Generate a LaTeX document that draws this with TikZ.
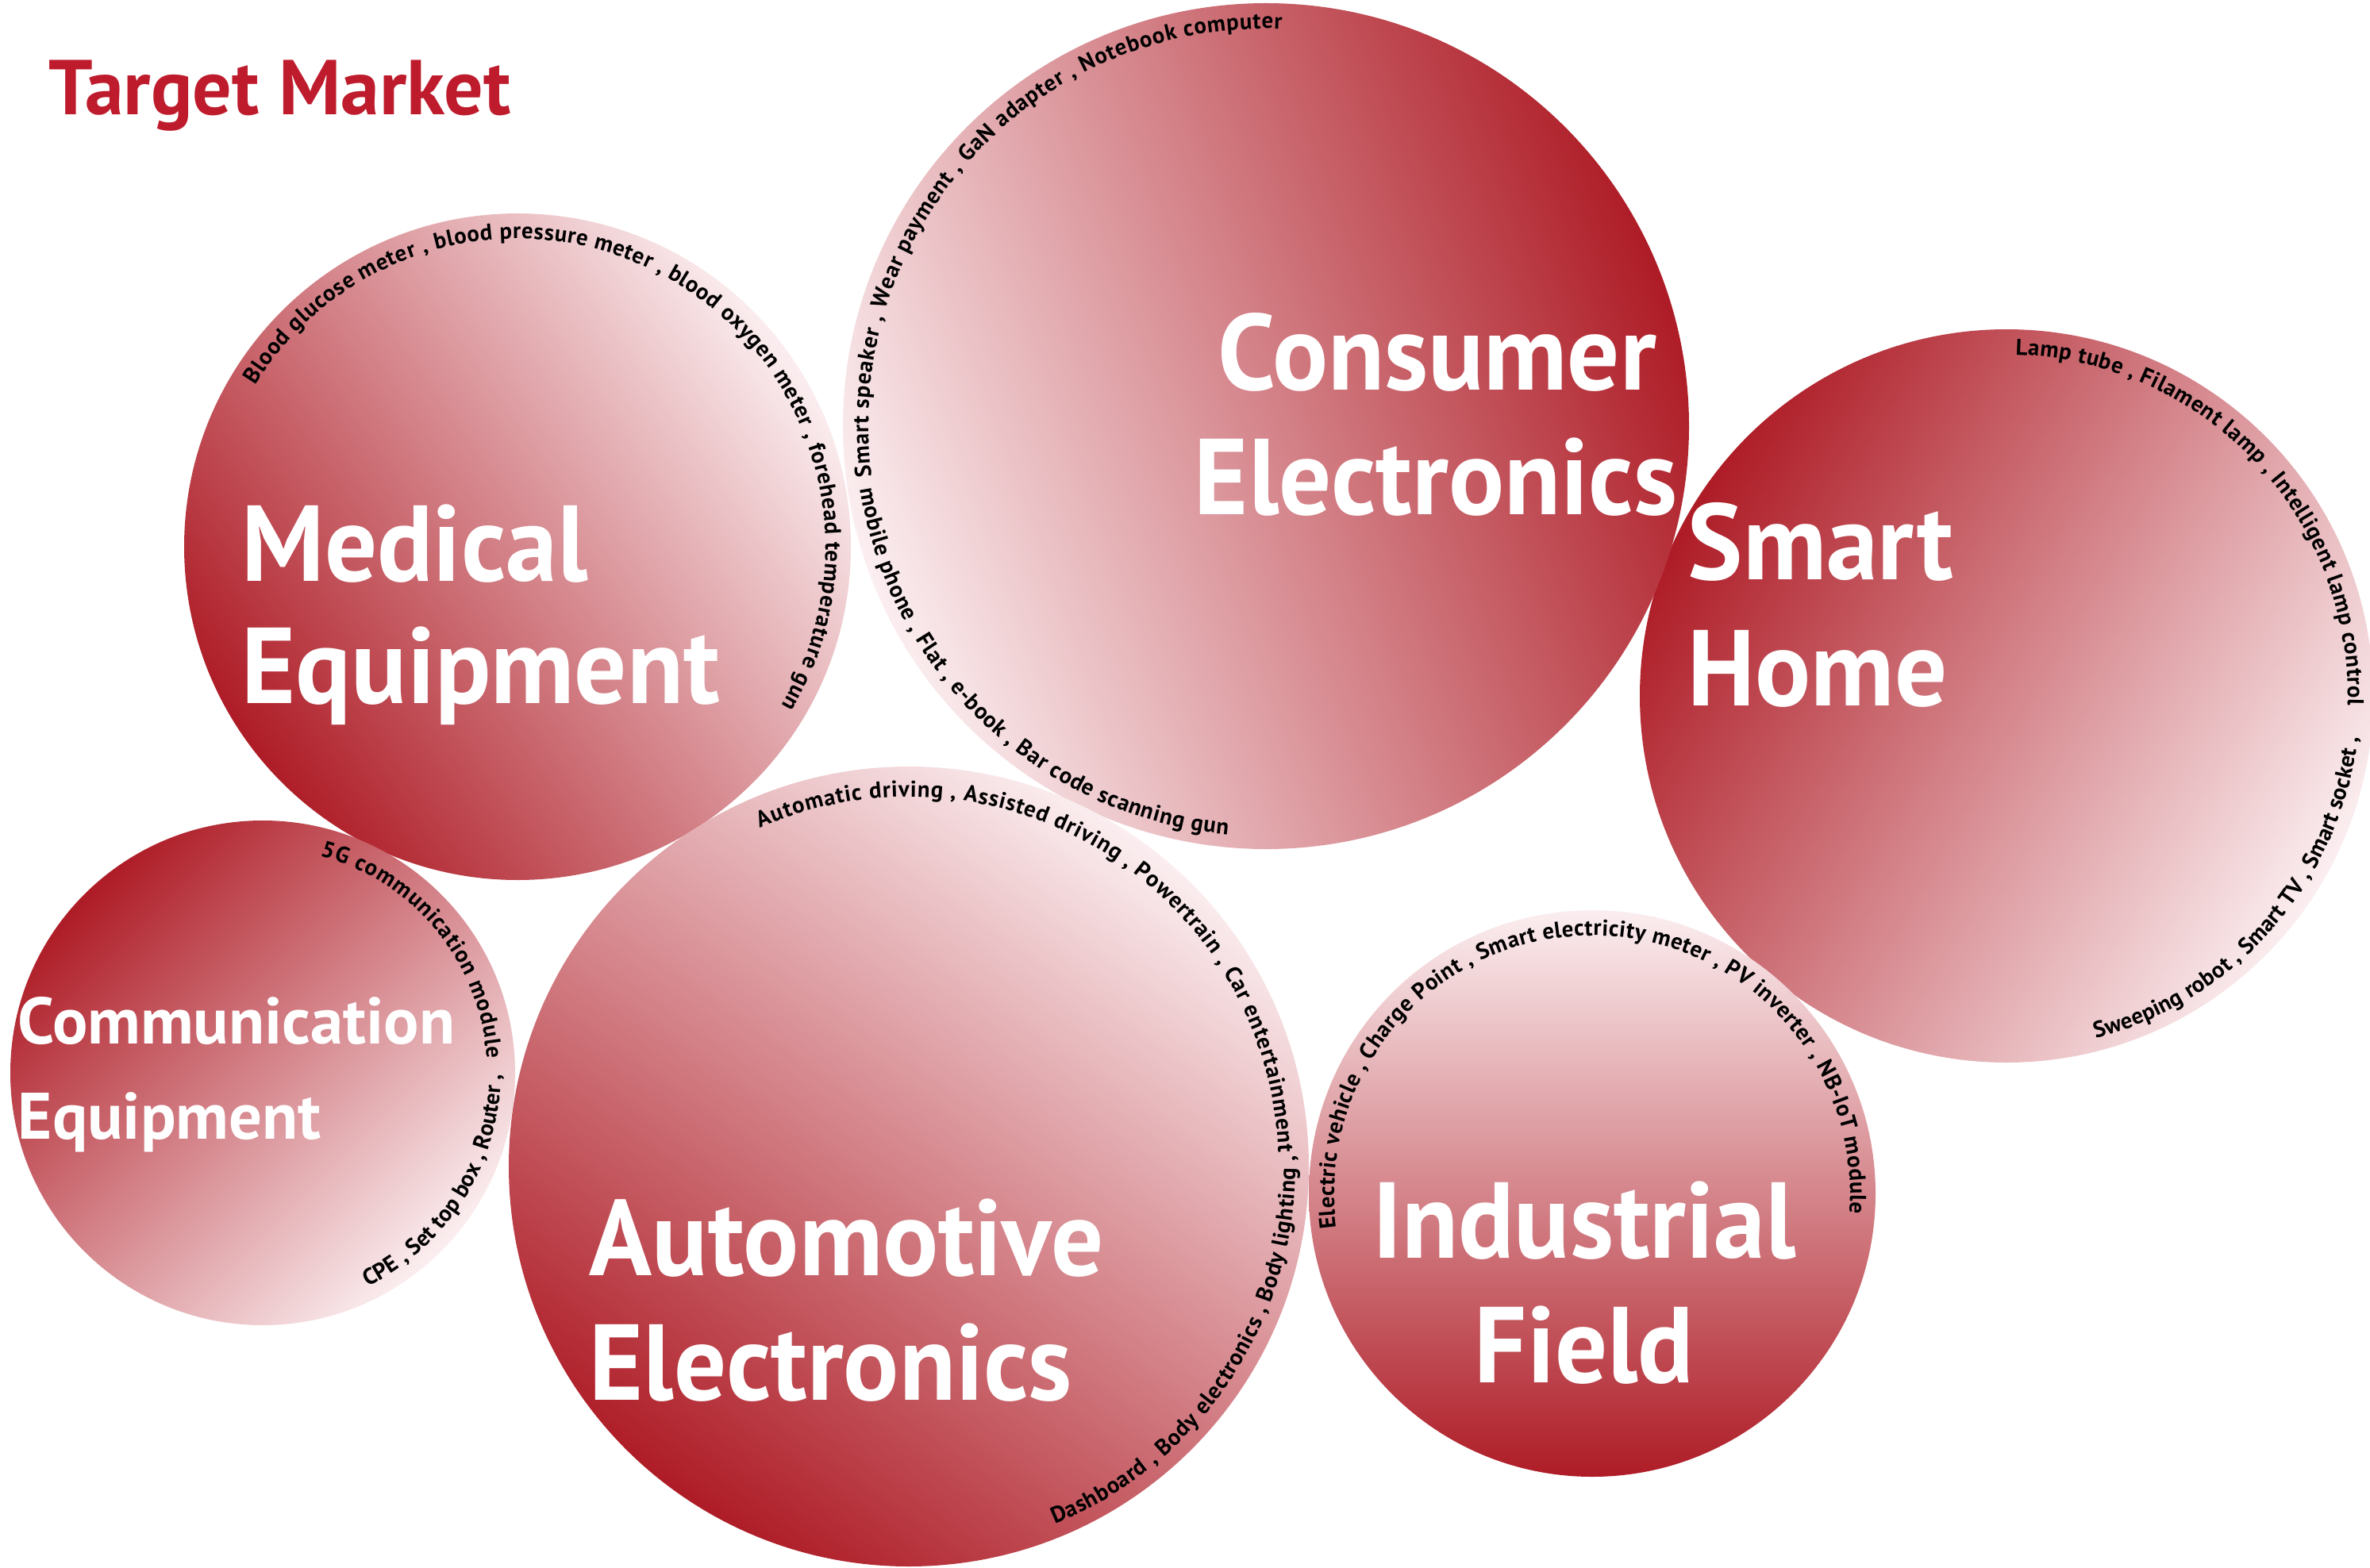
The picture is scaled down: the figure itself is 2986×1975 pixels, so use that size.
\documentclass[tikz,border=0pt]{standalone}
\usepackage{fontspec}
\setmainfont{PT Sans}
\newfontfamily\labelfont[FakeStretch=0.96]{PT Sans}
\usetikzlibrary{decorations.text}
\definecolor{cdark}{RGB}{174,28,38}
\definecolor{clight}{RGB}{251,238,240}
\definecolor{ctitle}{RGB}{190,28,45}
\newcommand\arcfont{\fontsize{7.2}{8}\selectfont\bfseries}
\begin{document}
\begin{tikzpicture}[x=0.25pt,y=0.25pt,
  bubble/.style={top color=cdark,bottom color=clight},
  cat/.style={text=white,font=\labelfont\fontsize{34}{38}\selectfont\bfseries,inner sep=0pt},
  catsmall/.style={text=white,font=\fontsize{20.7}{24}\selectfont\bfseries,inner sep=0pt},
  arctext/.style={decorate,decoration={text along path,text align={fit to path},text={|\arcfont|#1}}}]
\useasboundingbox (0,0) rectangle (2986,1975);
% centres
\coordinate (med) at (652,1286);
\coordinate (con) at (1595,1438);
\coordinate (sh)  at (2528,1098);
\coordinate (com) at (331,623);
\coordinate (aut) at (1145,505);
\coordinate (ind) at (2006,471);
% bubbles
\shade[bubble,shading angle=125] (med) circle[radius=420];
\shade[bubble,shading angle=60]  (sh)  circle[radius=462];
\shade[bubble,shading angle=-70] (con) circle[radius=533];
\shade[bubble,shading angle=45]  (com) circle[radius=318];
\shade[bubble,shading angle=145] (aut) circle[radius=504];
\shade[bubble,shading angle=180] (ind) circle[radius=357];
% title
\node (title) [anchor=base west,inner sep=0pt,text=ctitle,font=\fontsize{24.5}{28}\selectfont\bfseries] at (61,1830) {Target Market};
% category labels
\node (med1) [cat,anchor=base west] at (304,1243) {Medical};
\node (med2) [cat,anchor=base west] at (304,1089) {Equipment};
\node (con1) [cat,anchor=base] at (1811,1483) {Consumer};
\node (con2) [cat,anchor=base] at (1809,1327) {Electronics};
\node (sh1) [cat,anchor=base west] at (2126,1245) {Smart};
\node (sh2) [cat,anchor=base west] at (2126,1086) {Home};
\node (com1) [catsmall,anchor=base west] at (22,660) {Communication};
\node (com2) [catsmall,anchor=base west] at (22,540) {Equipment};
\node (aut1) [cat,anchor=base west] at (742,368) {Automotive};
\node (aut2) [cat,anchor=base west] at (742,211) {Electronics};
\node (ind1) [cat,anchor=base] at (1996,390) {Industrial};
\node (ind2) [cat,anchor=base] at (1996,233) {Field};
% arc texts
\path[arctext={Blood glucose meter , blood pressure meter , blood oxygen meter , forehead temperature gun}]
  (med) ++(148.3:388) arc[start angle=148.3,end angle=-31,radius=388];
\path[arctext={Smart speaker , Wear payment , GaN adapter , Notebook computer}]
  (con) ++(187.3:501) arc[start angle=187.3,end angle=87.7,radius=501];
\path[arctext={mobile phone , Flat , e-book , Bar code scanning gun}]
  (con) ++(188.8:517) arc[start angle=188.8,end angle=264.6,radius=517];
\path[arctext={Lamp tube , Filament lamp , Intelligent lamp control}]
  (sh) ++(88.5:430) arc[start angle=88.5,end angle=-1.5,radius=430];
\path[arctext={Sweeping robot , Smart TV , Smart socket ,}]
  (sh) ++(-75.4:446) arc[start angle=-75.4,end angle=-6.8,radius=446];
\path[arctext={5G communication module}]
  (com) ++(75.1:283) arc[start angle=75.1,end angle=3.6,radius=283];
\path[arctext={CPE , Set top box , Router ,}]
  (com) ++(-63.9:300) arc[start angle=-63.9,end angle=-0.3,radius=300];
\path[arctext={Automatic driving , Assisted driving , Powertrain , Car entertainment}]
  (aut) ++(113.7:466) arc[start angle=113.7,end angle=2.2,radius=466];
\path[arctext={Dashboard , Body electronics , Body lighting ,}]
  (aut) ++(-67.8:487) arc[start angle=-67.8,end angle=1.6,radius=487];
\path[arctext={Electric vehicle , Charge Point , Smart electricity meter , PV inverter , NB-IoT module}]
  (ind) ++(187.7:325) arc[start angle=187.7,end angle=-4.4,radius=325];
\end{tikzpicture}
\end{document}
